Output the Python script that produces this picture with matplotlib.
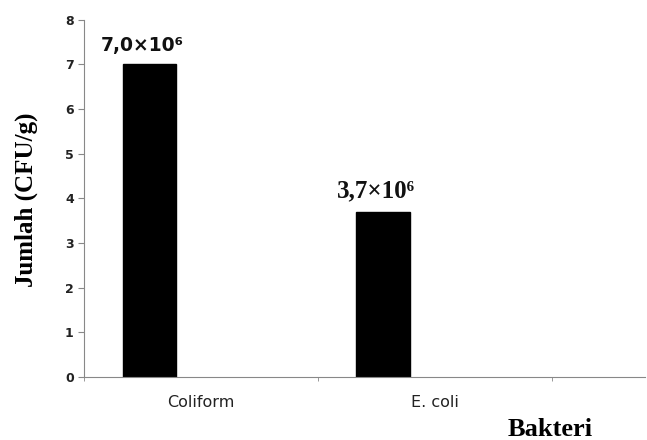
import matplotlib.pyplot as plt
import numpy as np

# Data
bakteri = ['Coliform', 'E. coli']
jumlah = [7.0, 3.7]
label_teks = ['7,0×10⁶', '3,7×10⁶']
yticks = [0, 1, 2, 3, 4, 5, 6, 7, 8]

x = np.arange(len(bakteri))

fig = plt.figure(figsize=(6.47, 4.40), dpi=100)
ax = fig.add_axes([0.13, 0.143, 0.867, 0.812])

offset = -0.22
bars = ax.bar(x + offset, jumlah, width=0.23, color='black', edgecolor='black')

# value labels above each bar
fonts = ['DejaVu Sans', 'Liberation Serif']
sizes = [13.5, 18]
for b, teks, fam, fs in zip(bars, label_teks, fonts, sizes):
    ax.text(b.get_x() + b.get_width() / 2 - 0.03, b.get_height() + 0.22, teks,
            ha='center', va='bottom', fontweight='bold', family=[fam, 'DejaVu Sans'],
            fontsize=fs, color='#111111')

ax.set_xlim(-0.5, 1.9)
ax.set_ylim(0, 8)
ax.set_yticks(yticks)
ax.set_xticks(x)
ax.set_xticklabels(bakteri, fontsize=11.5, color='#222222')
ax.set_xticks([-0.5, 0.5, 1.5], minor=True)
ax.tick_params(axis='x', which='major', length=0, pad=13)
ax.tick_params(axis='x', which='minor', length=3, color='#888888')
ax.tick_params(axis='y', labelsize=9, length=4, color='#888888', labelcolor='#222222')
for t in ax.get_yticklabels():
    t.set_fontweight('bold')

for s in ['top', 'right']:
    ax.spines[s].set_visible(False)
for s in ['left', 'bottom']:
    ax.spines[s].set_color('#888888')

fig.text(0.04, 0.545, 'Jumlah (CFU/g)', rotation=90, ha='center', va='center',
         family='Liberation Serif', fontweight='bold', fontsize=18)
fig.text(0.85, 0.025, 'Bakteri', ha='center', va='center',
         family='Liberation Serif', fontweight='bold', fontsize=19)

fig.savefig('out.png', dpi=100)
